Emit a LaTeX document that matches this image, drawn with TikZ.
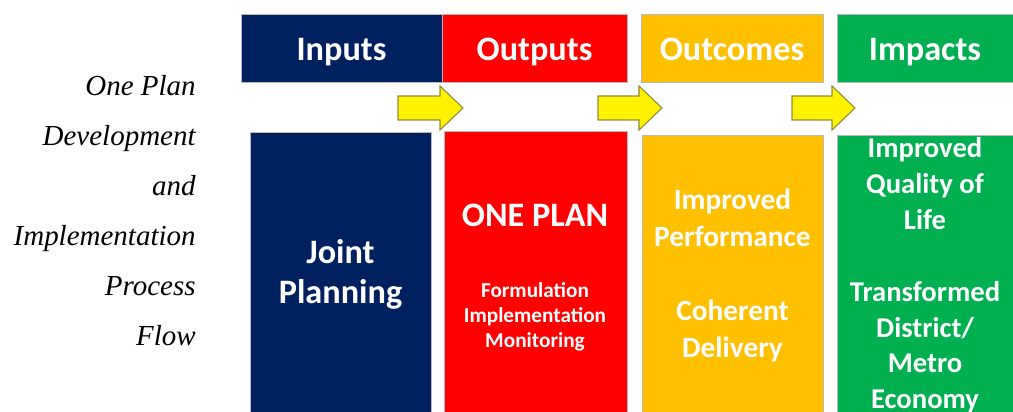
\documentclass[tikz,border=0pt]{standalone}
\usepackage{fontspec}
\setmainfont{Liberation Serif}
\newfontfamily\boxfont{Carlito}
\definecolor{navy}{HTML}{002060}
\definecolor{planred}{HTML}{FF0000}
\definecolor{amber}{HTML}{FFC000}
\definecolor{leafgreen}{HTML}{00B050}

\begin{document}
\begin{tikzpicture}[
  x=0.2mm,y=-0.2mm,
  head/.style={draw=gray!55,line width=.5pt,minimum height=13.6mm,inner sep=0pt,text=white,
    font=\boxfont\bfseries\fontsize{19.5}{23}\selectfont,text height=14pt,text depth=0pt},
  column/.style={draw=gray!55,line width=.5pt,inner sep=0pt,align=center,text=white,font=\boxfont\bfseries},
  pointer/.style={fill=yellow,draw=olive!60!gray,line width=.6pt}
]
  \useasboundingbox (0,0) rectangle (1013,412);

  \node[anchor=east,align=right,inner sep=0pt,font=\itshape\fontsize{16.5}{28.45}\selectfont] (title)
    at (196,211) {One Plan\\Development\\and\\Implementation\\Process\\Flow};

  % header row
  \node[head,fill=navy,minimum width=40.2mm] (inputs) at (341.5,48) {Inputs};
  \node[head,fill=planred,minimum width=37mm] (outputs) at (534.5,48) {Outputs};
  \node[head,fill=amber,minimum width=36.4mm] (outcomes) at (732,48) {Outcomes};
  \node[head,fill=leafgreen,minimum width=35.2mm] (impacts) at (925,48) {Impacts};

  \draw[pointer] (398,96) -- (440,96) -- (440,86) -- (463,108) -- (440,130) -- (440,120) -- (398,120) -- cycle;
  \draw[pointer] (598,96) -- (639,96) -- (639,86) -- (662,108) -- (639,130) -- (639,120) -- (598,120) -- cycle;
  \draw[pointer] (792,96) -- (832,96) -- (832,86) -- (855,108) -- (832,130) -- (832,120) -- (792,120) -- cycle;

  % columns
  \node[column,fill=navy,minimum width=36.2mm,minimum height=56.8mm,
    font=\boxfont\bfseries\fontsize{19.5}{22.7}\selectfont] (planning) at (340.5,274) {Joint\\Planning};
  \node[column,fill=planred,minimum width=36.6mm,minimum height=57mm] (plan) at (535.5,273.5) {};
  \node[text=white,inner sep=0pt,font=\boxfont\bfseries\fontsize{19.5}{23}\selectfont] (oneplan)
    at (535,215) {ONE PLAN};
  \node[text=white,inner sep=0pt,align=center,font=\boxfont\bfseries\fontsize{12.1}{14.2}\selectfont] (steps)
    at (535,317) {Formulation\\Implementation\\Monitoring};
  \node[column,fill=amber,minimum width=36.2mm,minimum height=56.2mm,
    font=\boxfont\bfseries\fontsize{16.7}{21}\selectfont] (performance) at (732.5,275.5)
    {Improved\\Performance\\[21pt]Coherent\\Delivery};
  \node[column,fill=leafgreen,minimum width=35.2mm,minimum height=56.2mm,
    font=\boxfont\bfseries\fontsize{16.3}{20.4}\selectfont] (quality) at (925,275.5)
    {Improved\\Quality of\\Life\\[20.4pt]Transformed\\District/\\Metro\\Economy};
\end{tikzpicture}
\end{document}
